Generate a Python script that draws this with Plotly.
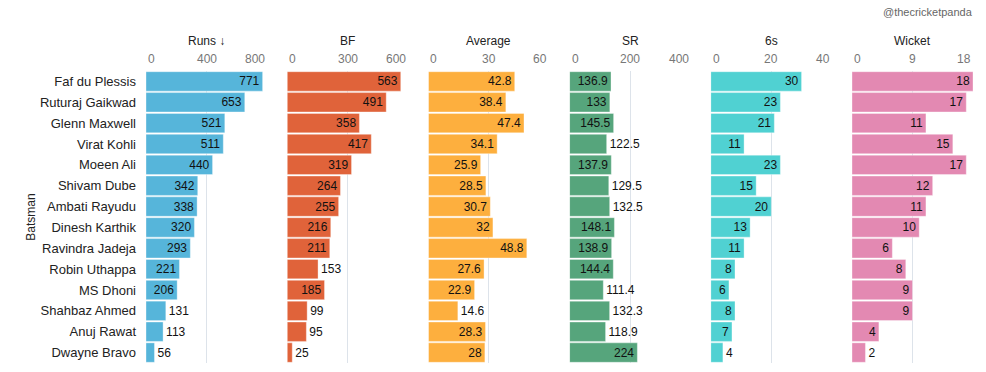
import plotly.graph_objects as go

batsmen = ["Faf du Plessis", "Ruturaj Gaikwad", "Glenn Maxwell", "Virat Kohli", "Moeen Ali",
           "Shivam Dube", "Ambati Rayudu", "Dinesh Karthik", "Ravindra Jadeja", "Robin Uthappa",
           "MS Dhoni", "Shahbaz Ahmed", "Anuj Rawat", "Dwayne Bravo"]
runs = [771, 653, 521, 511, 440, 342, 338, 320, 293, 221, 206, 131, 113, 56]
bf = [563, 491, 358, 417, 319, 264, 255, 216, 211, 153, 185, 99, 95, 25]
average = [42.8, 38.4, 47.4, 34.1, 25.9, 28.5, 30.7, 32, 48.8, 27.6, 22.9, 14.6, 28.3, 28]
sr = [136.9, 133, 145.5, 122.5, 137.9, 129.5, 132.5, 148.1, 138.9, 144.4, 111.4, 132.3, 118.9, 224]
sixes = [30, 23, 21, 11, 23, 15, 20, 13, 11, 8, 6, 8, 7, 4]
wickets = [18, 17, 11, 15, 17, 12, 11, 10, 6, 8, 9, 9, 4, 2]

titles = ["Runs \u2193", "BF", "Average", "SR", "6s", "Wicket"]
series = [runs, bf, average, sr, sixes, wickets]
ranges = [[0, 800], [0, 600], [0, 60], [0, 400], [0, 40], [0, 18]]
tickvals = [[0, 400, 800], [0, 300, 600], [0, 30, 60], [0, 200, 400], [0, 20, 40], [0, 9, 18]]
colors = ["#56B5DA", "#E0633A", "#FDAF3E", "#56A57C", "#50D1D2", "#E389B2"]
outside = [
    {131, 113, 56},
    {153, 99, 95, 25},
    {14.6},
    {122.5, 129.5, 132.5, 111.4, 132.3, 118.9},
    {4},
    {2},
]

fig = go.Figure()
plot_w = 827.0
step = 141.2 / plot_w
pw = 121.0 / plot_w
font_family = "Liberation Sans, Arial, sans-serif"

for i, (vals, col) in enumerate(zip(series, colors)):
    xa = "x" if i == 0 else f"x{i+1}"
    texts = [str(v) for v in vals]
    pos = ["outside" if v in outside[i] else "inside" for v in vals]
    fig.add_trace(go.Bar(
        y=batsmen, x=vals, orientation="h",
        marker=dict(color=col, line=dict(color="rgba(255,255,255,0.35)", width=1)),
        text=texts, textposition=pos, insidetextanchor="end", textangle=0,
        textfont=dict(color="#111111", size=12, family=font_family),
        outsidetextfont=dict(color="#111111", size=12, family=font_family),
        insidetextfont=dict(color="#111111", size=12, family=font_family),
        cliponaxis=False, constraintext="none",
        xaxis=xa, yaxis="y", showlegend=False, hoverinfo="x+y",
    ))
    left = i * step
    right = min(left + pw, 1.0)
    axkey = "xaxis" if i == 0 else f"xaxis{i+1}"
    fig.layout[axkey] = dict(
        domain=[left, right], range=ranges[i], side="top",
        tickvals=tickvals[i], showticklabels=False,
        showgrid=True, gridcolor="#DDE3EA", gridwidth=1, zeroline=False,
        ticks="", showline=False, fixedrange=True, anchor="y", automargin=False,
    )
    tv = tickvals[i]
    for j, t in enumerate(tv):
        anchor = "left" if j == 0 else ("right" if j == len(tv) - 1 else "center")
        fig.add_annotation(
            text=str(t), xref=xa, yref="paper", x=t, y=1.0, yshift=3,
            showarrow=False, xanchor=anchor, yanchor="bottom",
            font=dict(color="#777777", size=12, family=font_family),
        )
    fig.add_annotation(
        text=titles[i], xref="paper", yref="paper",
        x=(left + right) / 2, y=1.0, yshift=21, showarrow=False,
        xanchor="center", yanchor="bottom",
        font=dict(color="#222222", size=12, family=font_family),
    )

fig.update_layout(
    width=986, height=372,
    margin=dict(l=146, r=13, t=71, b=9, autoexpand=False),
    paper_bgcolor="white", plot_bgcolor="white",
    bargap=0.07,
    yaxis=dict(
        autorange="reversed", categoryorder="array", categoryarray=batsmen,
        title=dict(text="Batsman", font=dict(size=12, color="#222222", family=font_family), standoff=1),
        tickfont=dict(size=13, color="#222222", family=font_family),
        showgrid=False, ticks="", ticklabelstandoff=9, fixedrange=True, automargin=False,
    ),
    font=dict(family=font_family),
)

fig.add_annotation(
    text="@thecricketpanda", xref="paper", yref="paper",
    x=1.0, y=1.0, yshift=51, xshift=2, showarrow=False,
    xanchor="right", yanchor="bottom",
    font=dict(color="#666666", size=11, family=font_family),
)

fig.write_html("out.html", post_script="document.body.style.margin='0';",
               config={"displayModeBar": False})
